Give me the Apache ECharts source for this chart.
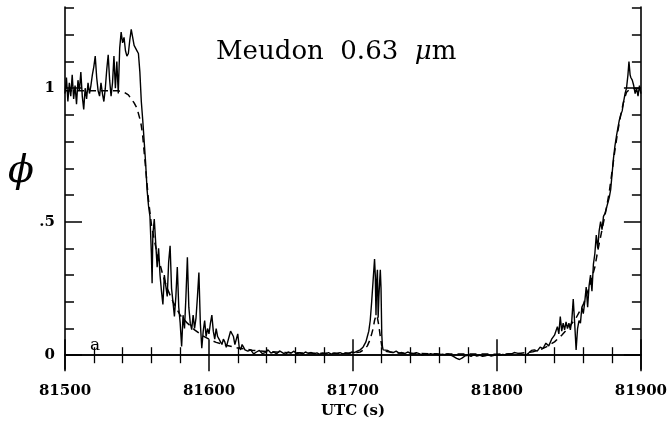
<!DOCTYPE html>
<html><head><meta charset="utf-8">
<script src="https://cdn.jsdelivr.net/npm/echarts@6/dist/echarts.min.js"></script>
<style>html,body{margin:0;padding:0;background:#fff}#c{width:670px;height:424px}</style>
</head><body><div id="c"></div>
<script>
// Observed light curve: [UTC seconds, normalized flux phi]
const observed = [
[81500,0.98],[81501,1.04],[81502,0.95],[81503,1.02],[81504,0.97],[81505,1.05],[81506,0.96],[81507,1.01],[81508,0.94],[81509,1.03],
[81510,0.99],[81511,1.06],[81512,0.97],[81513,0.92],[81514,1.00],[81515,0.96],[81516,1.02],[81517,0.98],[81518,1.01],[81519,1.05],
[81520,1.08],[81521,1.12],[81522,1.04],[81523,0.99],[81524,0.97],[81525,1.02],[81526,0.98],[81527,0.95],[81528,1.0],[81529,1.07],
[81530,1.125],[81531,1.03],[81532,0.97],[81533,1.02],[81534,1.12],[81535,1.0],[81536,1.10],[81537,0.98],[81538,1.15],[81539,1.21],
[81540,1.17],[81541,1.19],[81542,1.14],[81543,1.12],[81544,1.13],[81545,1.18],[81546,1.22],[81547,1.19],[81548,1.16],[81549,1.15],
[81550,1.14],[81551,1.13],[81552,1.06],[81553,0.95],[81554,0.88],[81555,0.80],[81556,0.72],[81557,0.62],[81558,0.56],[81559,0.52],
[81560,0.38],[81560.5,0.27],[81561,0.45],[81562,0.51],[81563,0.42],[81564,0.33],[81565,0.40],[81566,0.30],[81567,0.24],[81568,0.19],
[81569,0.30],[81570,0.26],[81571,0.22],[81572,0.35],[81573,0.41],[81574,0.25],[81575,0.20],[81576,0.145],[81577,0.22],[81578,0.33],
[81579,0.18],[81580,0.12],[81581,0.033],[81582,0.15],[81583,0.10],[81584,0.22],[81585,0.367],[81586,0.18],[81587,0.12],[81588,0.096],
[81589,0.15],[81590,0.10],[81591,0.14],[81592,0.22],[81593,0.31],[81594,0.12],[81595,0.026],[81596,0.09],[81597,0.13],[81598,0.07],
[81599,0.10],[81600,0.08],[81601,0.12],[81602,0.15],[81603,0.09],[81604,0.06],[81605,0.10],[81606,0.07],[81607,0.06],[81608,0.05],
[81609,0.04],[81610,0.06],[81611,0.05],[81612,0.03],[81613,0.05],[81614,0.07],[81615,0.09],[81616,0.096],[81617,0.07],[81618,0.04],
[81619,0.06],[81620,0.08],[81621,0.03],[81622,0.02],[81623,0.04],[81624,0.03],[81625,0.02],[81627,0.015],[81629,0.02],[81631,0.005],
[81633,0.012],[81635,0.018],[81637,0.006],[81639,0.01],[81641,0.02],[81643,0.008],[81645,0.012],[81647,0.005],[81649,0.016],[81651,0.01],
[81653,0.003],[81655,0.012],[81657,0.008],[81659,0.015],[81661,0.005],[81663,0.01],[81665,0.004],[81667,0.012],[81669,0.007],[81671,0.01],
[81673,0.005],[81675,0.009],[81677,0.003],[81679,0.008],[81681,0.005],[81683,0.01],[81685,0.004],[81687,0.008],[81689,0.006],[81691,0.01],
[81693,0.005],[81695,0.009],[81697,0.006],[81699,0.012],[81701,0.01],[81703,0.015],[81705,0.02],[81706,0.025],[81707,0.03],[81708,0.035],
[81709,0.05],[81710,0.07],[81711,0.09],[81712,0.13],[81713,0.2],[81714,0.28],[81715,0.36],[81715.5,0.3],[81716,0.15],[81716.5,0.28],
[81717,0.32],[81717.5,0.14],[81718,0.22],[81719,0.32],[81719.5,0.25],[81720,0.08],[81720.5,0.03],[81721,0.02],[81722,0.015],[81724,0.018],
[81726,0.012],[81728,0.01],[81730,0.015],[81732,0.008],[81734,0.01],[81736,0.006],[81738,0.012],[81740,0.008],[81742,0.005],[81744,0.01],
[81746,0.006],[81748,0.0],[81750,0.004],[81752,0.002],[81754,0.006],[81756,0.003],[81758,0.005],[81760,0.0],[81762,0.004],[81764,0.002],
[81766,0.005],[81768,0.0],[81770,-0.005],[81772,-0.012],[81774,-0.016],[81776,-0.01],[81778,-0.002],[81780,0.0],[81782,-0.004],[81784,0.002],
[81786,-0.003],[81788,0.0],[81790,-0.004],[81792,-0.002],[81794,0.001],[81796,-0.003],[81798,0.0],[81800,0.002],[81802,0.0],[81804,0.003],
[81806,0.001],[81808,0.005],[81810,0.004],[81812,0.01],[81814,0.008],[81816,0.006],[81818,0.002],[81820,0.0],[81822,0.008],[81824,0.018],
[81826,0.02],[81828,0.015],[81830,0.03],[81832,0.025],[81834,0.045],[81836,0.035],[81838,0.06],[81840,0.075],[81841,0.07],[81842,0.107],
[81843,0.08],[81844,0.145],[81845,0.09],[81846,0.12],[81847,0.095],[81848,0.125],[81849,0.1],[81850,0.12],[81851,0.095],[81852,0.13],
[81853,0.21],[81854,0.12],[81855,0.02],[81856,0.1],[81857,0.13],[81858,0.12],[81859,0.18],[81860,0.156],[81861,0.2],[81862,0.255],
[81863,0.18],[81864,0.26],[81865,0.3],[81866,0.24],[81867,0.34],[81868,0.38],[81869,0.45],[81870,0.40],[81871,0.466],[81872,0.5],
[81873,0.47],[81874,0.52],[81875,0.53],[81876,0.55],[81877,0.57],[81878,0.59],[81879,0.62],[81880,0.68],[81881,0.74],[81882,0.785],
[81883,0.82],[81884,0.85],[81885,0.88],[81886,0.90],[81887,0.915],[81888,0.95],[81889,0.98],[81890,1.0],[81891,1.05],[81891.7,1.10],
[81892.5,1.05],[81893,1.04],[81894,1.03],[81895,1.01],[81896,0.98],[81897,1.0],[81898,0.97],[81899,1.01],[81900,0.98]
];
// Model light curve (dashed)
const model = [
[81500,0.99],[81510,0.99],[81520,0.99],[81530,0.99],[81537,0.99],[81541,0.985],[81544,0.975],[81546,0.96],[81548,0.945],[81550,0.925],
[81552,0.885],[81553,0.86],[81554,0.82],[81555,0.76],[81556,0.70],[81557,0.64],[81558,0.58],[81560,0.49],[81562,0.43],[81565,0.36],
[81568,0.30],[81571,0.25],[81575,0.20],[81580,0.15],[81585,0.12],[81590,0.095],[81595,0.075],[81600,0.06],[81605,0.048],[81610,0.04],
[81620,0.027],[81630,0.019],[81640,0.014],[81650,0.011],[81660,0.009],[81680,0.007],[81700,0.008],[81705,0.012],[81708,0.022],[81710,0.035],
[81712,0.06],[81714,0.1],[81715,0.13],[81716,0.15],[81717,0.14],[81718,0.11],[81719,0.07],[81720,0.035],[81722,0.015],[81730,0.008],
[81760,0.005],[81800,0.004],[81815,0.006],[81825,0.013],[81830,0.02],[81835,0.033],[81840,0.05],[81845,0.075],[81850,0.105],[81855,0.14],
[81860,0.19],[81865,0.27],[81868,0.33],[81870,0.39],[81873,0.47],[81876,0.55],[81878,0.61],[81880,0.69],[81882,0.77],[81884,0.84],
[81886,0.9],[81888,0.95],[81890,0.985],[81892,0.995],[81896,1.0],[81900,1.0]
];
const xTickValues = [81500, 81600, 81700, 81800, 81900];
const yMajorTicks = [0, 0.5, 1];
const yMinorTicks = [0.1, 0.2, 0.3, 0.4, 0.6, 0.7, 0.8, 0.9, 1.1, 1.2, 1.3];
const yTickLabels = ['0', '.5', '1'];
const titleParts = ['Meudon', '0.63', 'μ', 'm'];
const xName = 'UTC (s)';
const yName = 'ϕ';
const panelLabel = 'a';

const SERIF = 'DejaVu Serif';
const BLACK = '#000';
const xMin = xTickValues[0], xMax = xTickValues[xTickValues.length - 1];
const yMin = -0.052, yMax = 1.304;

function xAx(pos, labels) {
  return {
    type: 'value', position: pos, min: xMin, max: xMax, interval: 100,
    axisLine: { show: true, lineStyle: { color: BLACK, width: 1.6 } },
    axisTick: { show: true, inside: true, length: 16, lineStyle: { color: BLACK, width: 1.5 } },
    minorTick: { show: true, splitNumber: 5, length: 8, lineStyle: { color: BLACK, width: 1.3 } },
    axisLabel: labels ? { show: true, margin: 15, color: BLACK, fontFamily: SERIF, fontWeight: 'bold', fontSize: 15,
      formatter: function (v) { return String(v); } } : { show: false },
    splitLine: { show: false }, minorSplitLine: { show: false },
    name: labels ? xName : '', nameLocation: 'middle', nameGap: 31,
    nameTextStyle: { color: BLACK, fontFamily: SERIF, fontWeight: 'bold', fontSize: 15 }
  };
}
function yAx(pos, major, line) {
  return {
    type: 'value', position: pos, min: yMin, max: yMax,
    axisLine: { show: line, lineStyle: { color: BLACK, width: 1.6 } },
    axisTick: { show: true, inside: true, length: major ? 17 : 9, customValues: major ? yMajorTicks : yMinorTicks,
      lineStyle: { color: BLACK, width: 1.5 } },
    axisLabel: (major && pos === 'left') ? {
      show: true, customValues: yMajorTicks, margin: 10, color: BLACK, fontFamily: SERIF, fontWeight: 'bold', fontSize: 15,
      formatter: function (v) { const i = yMajorTicks.findIndex(t => Math.abs(t - v) < 1e-9); return i >= 0 ? yTickLabels[i] : ''; }
    } : { show: false },
    splitLine: { show: false }
  };
}

const chart = echarts.init(document.getElementById('c'), null, { renderer: 'canvas' });
chart.setOption({
  animation: false,
  backgroundColor: '#fff',
  title: {
    text: '{a|' + titleParts[0] + '}  {a|' + titleParts[1] + '}  {b|' + titleParts[2] + '}{a|' + titleParts[3] + '}',
    left: 211, top: 34,
    textStyle: { fontWeight: 'normal', fontFamily: SERIF, fontSize: 26, rich: {
      a: { fontFamily: SERIF, fontSize: 26, fontWeight: 'normal', color: BLACK },
      b: { fontFamily: SERIF, fontSize: 26, fontWeight: 'normal', fontStyle: 'italic', color: BLACK }
    } }
  },
  grid: { left: 65, right: 28, top: 7, bottom: 51 },
  xAxis: [xAx('bottom', true), xAx('top', false)],
  yAxis: [yAx('left', true, true), yAx('left', false, false), yAx('right', true, true), yAx('right', false, false)],
  graphic: [
    { type: 'text', left: 8, top: 153, style: { text: yName, fontFamily: SERIF, fontStyle: 'italic', fontSize: 38, fill: BLACK } },
    { type: 'text', left: 90, top: 337, style: { text: panelLabel, fontFamily: SERIF, fontSize: 17, fill: BLACK } }
  ],
  series: [
    { type: 'line', xAxisIndex: 0, yAxisIndex: 0, data: model, showSymbol: false, symbol: 'none',
      lineStyle: { color: BLACK, width: 1.5, type: [7, 5] }, z: 2 },
    { type: 'line', xAxisIndex: 0, yAxisIndex: 0, data: observed, showSymbol: false, symbol: 'none',
      lineStyle: { color: BLACK, width: 1.4 }, z: 3 }
  ]
});
</script></body></html>
